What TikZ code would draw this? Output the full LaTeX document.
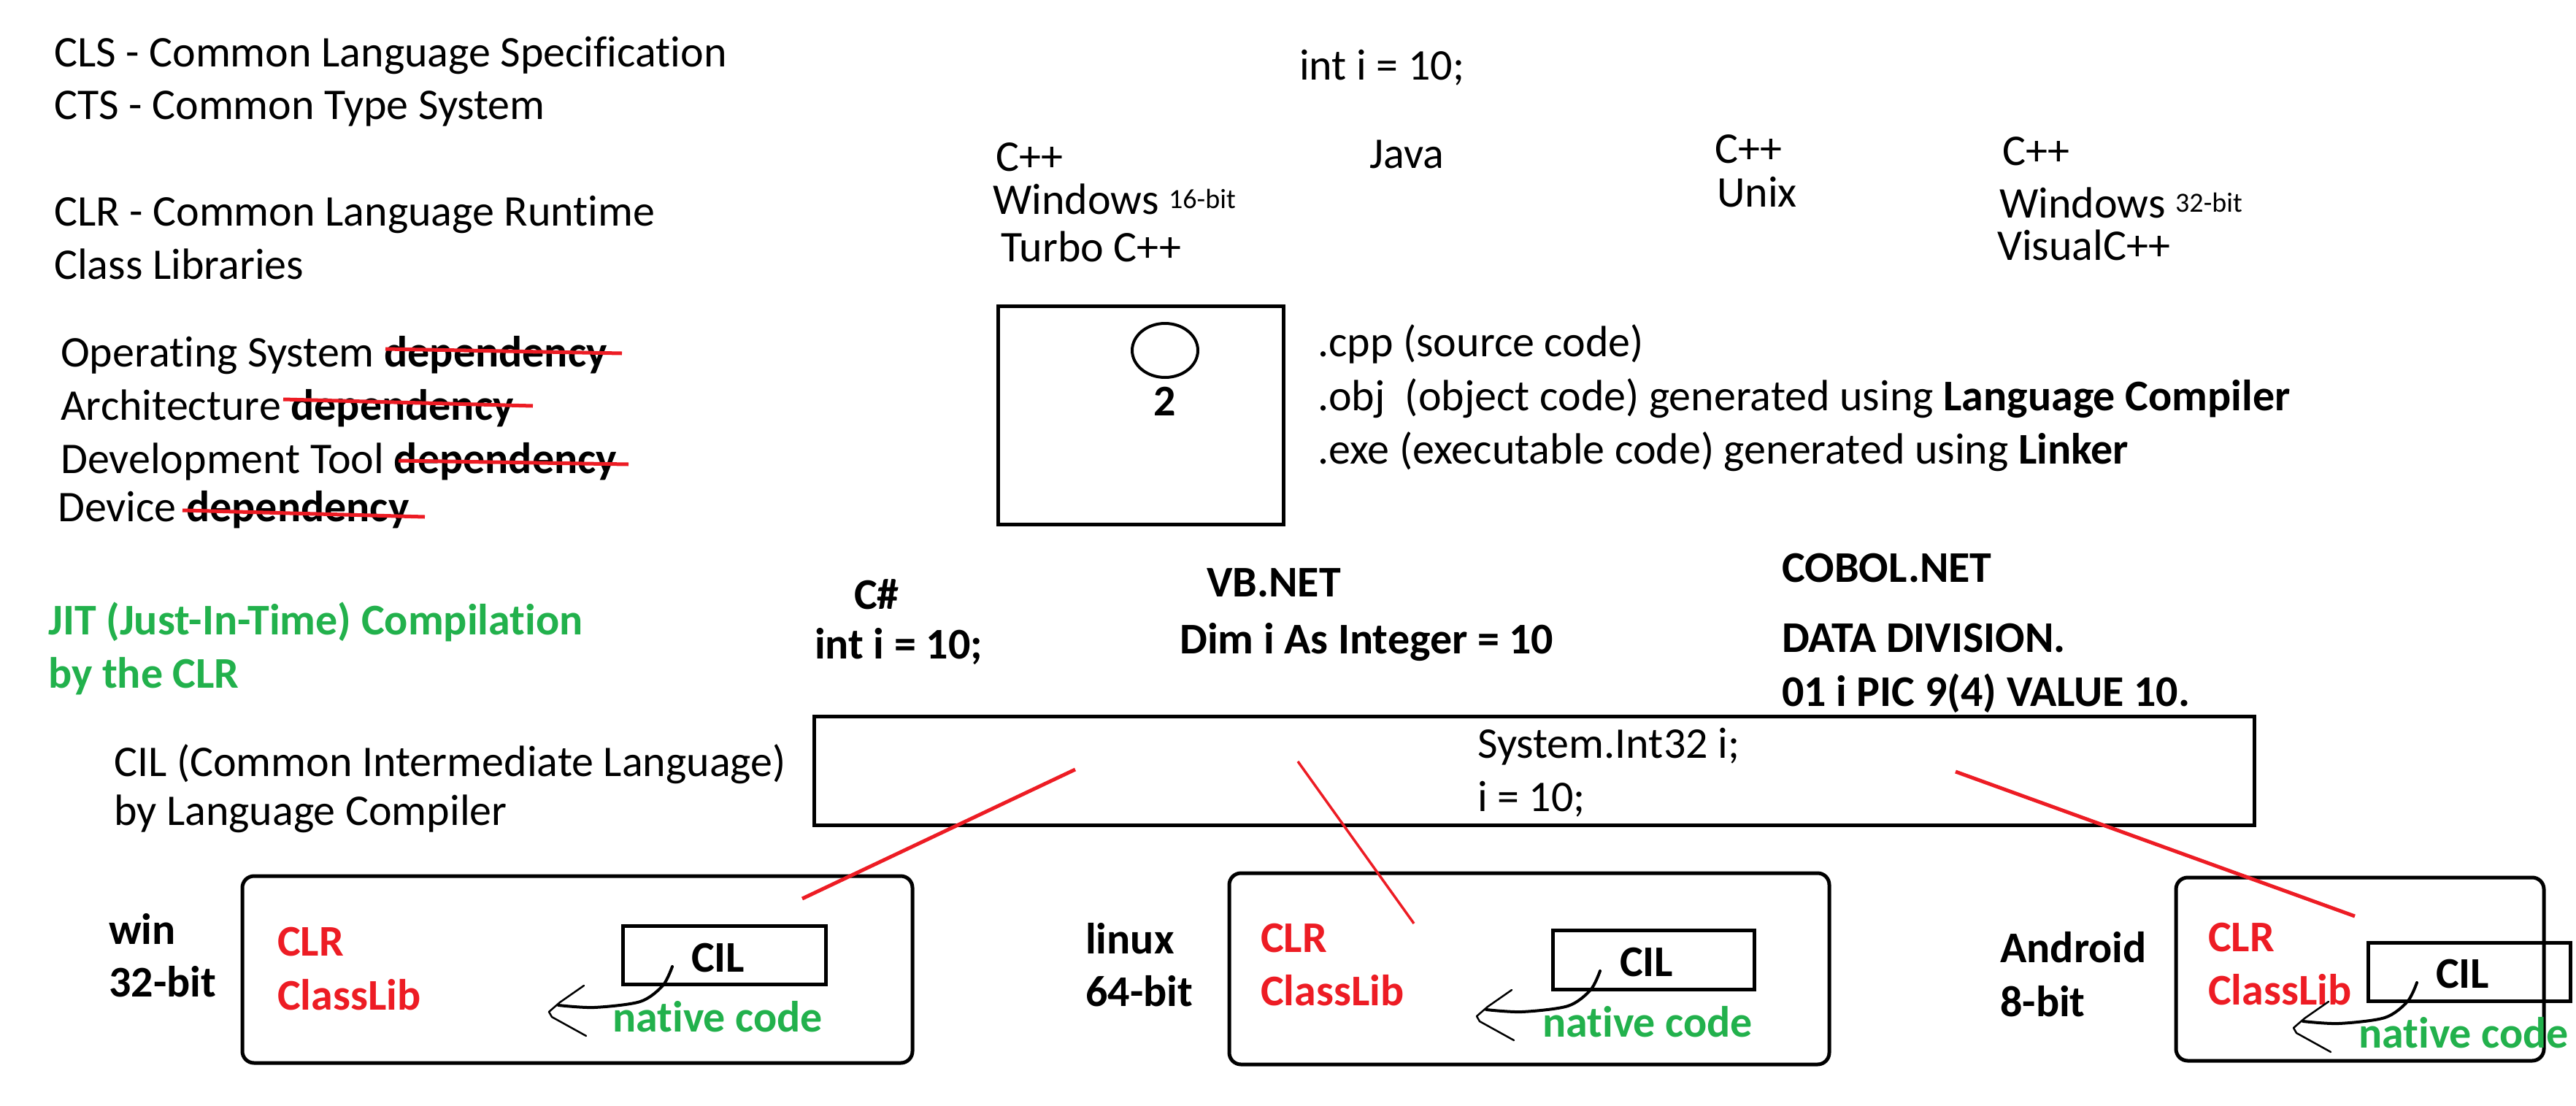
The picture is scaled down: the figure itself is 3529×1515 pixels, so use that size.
\documentclass[tikz,border=0pt]{standalone}
\usepackage{fontspec}
\setmainfont{Carlito}[Ligatures={NoCommon,NoRequired,NoContextual}]
\usetikzlibrary{shapes.geometric}
\definecolor{pred}{HTML}{ED1C24}
\definecolor{pgreen}{HTML}{22B14C}
\newcommand\smallsup[1]{\raisebox{8pt}{\fontsize{38}{40}\selectfont #1}}
\tikzset{
  txt/.style={anchor=base west, inner sep=0pt, font=\fontsize{60}{72}\selectfont},
  btxt/.style={txt, font=\fontsize{60}{72}\selectfont\bfseries},
  gtxt/.style={btxt, text=pgreen},
  rtxt/.style={btxt, text=pred},
  plainbox/.style={draw, line width=5pt, inner sep=0pt},
  osbox/.style={draw, line width=5pt, rounded corners=16pt, inner sep=0pt},
  strike/.style={draw=pred, line width=5pt},
  jitline/.style={draw=pred, line width=#1},
  jitarrow/.pic={
    \draw[line width=4pt, line cap=round] plot[smooth] coordinates {(169,-62) (156,-36) (125,-14) (62,-6) (13,-9)};
    \draw[line width=2.5pt, line cap=round, line join=round] (48,-36) -- (15,-13) -- (0,0) -- (4,7) -- (51,33);
  }
}
\begin{document}
\begin{tikzpicture}[x=1pt,y=-1pt]
\path[fill=white] (0,0) rectangle (3529,1515);
\useasboundingbox (0,0) rectangle (3529,1515);

% left column
\node[txt] (cls) at (74,91) {CLS - Common Language Specification};
\node[txt] (cts) at (74,163) {CTS - Common Type System};
\node[txt] (clr) at (74,309) {CLR - Common Language Runtime};
\node[txt] (classlib) at (74,382) {Class Libraries};
\node[txt] (dep1) at (83,502) {Operating System \textbf{dependency}};
\node[txt] (dep2) at (83,575) {Architecture \textbf{dependency}};
\node[txt] (dep3) at (83,648) {Development Tool \textbf{dependency}};
\node[txt] (dep4) at (79,714) {Device \textbf{dependency}};
\draw[strike] (528,478) -- (852,484);
\draw[strike] (388,547) -- (730,556);
\draw[strike] (546,631) -- (861,636);
\draw[strike] (250,699) -- (582,708);
\node[gtxt] (jit1) at (66,869) {JIT (Just-In-Time) Compilation};
\node[gtxt] (jit2) at (66,942) {by the CLR};
\node[txt] (cilA) at (156,1063) {CIL (Common Intermediate Language)};
\node[txt] (cilB) at (156,1130) {by Language Compiler};

% top
\node[txt] (inttop) at (1780,109) {int i = 10;};
\node[txt] (cppa) at (1364,234) {C++};
\node[txt] (winA) at (1360,293) {Windows \smallsup{16-bit}};
\node[txt] (turbo) at (1371,358) {Turbo C++};
\node[txt] (java) at (1876,230) {Java};
\node[txt] (cppb) at (2349,223) {C++};
\node[txt] (unix) at (2352,283) {Unix};
\node[txt] (cppc) at (2743,226) {C++};
\node[txt] (winB) at (2739,298) {Windows \smallsup{32-bit}};
\node[txt] (vcpp) at (2736,356) {VisualC++};

\node[plainbox, minimum width=391pt, minimum height=299pt] (screen) at (1562.5,568.5) {};
\node[draw, ellipse, line width=4pt, minimum width=90pt, minimum height=74pt, inner sep=0pt] (ell) at (1596,480) {};
\node[btxt, anchor=base] (two) at (1596,569) {2};
\node[txt] (cppf) at (1805,488) {.cpp (source code)};
\node[txt] (objf) at (1805,562) {.obj\ \ (object code) generated using \textbf{Language Compiler}};
\node[txt] (exef) at (1805,635) {.exe (executable code) generated using \textbf{Linker}};

% languages
\node[btxt] (cs) at (1170,834) {C\#};
\node[btxt] (csint) at (1116,902) {int i = 10;};
\node[btxt] (vb) at (1653,817) {VB.NET};
\node[btxt] (vbdim) at (1616,895) {Dim i As Integer = 10};
\node[btxt] (cob) at (2441,797) {COBOL.NET};
\node[btxt] (cobdd) at (2441,893) {DATA DIVISION.};
\node[btxt] (cobpic) at (2441,967) {01 i PIC 9(4) VALUE 10.};

\node[plainbox, minimum width=1973pt, minimum height=149pt] (cilbox) at (2101.5,1055.5) {};
\node[txt] (sysint) at (2024,1038) {System.Int32 i;};
\node[txt] (ieq) at (2024,1111) {i = 10;};

% platforms
\node[btxt] (winl) at (149,1293) {win};
\node[btxt] (winb) at (149,1365) {32-bit};
\node[btxt] (linl) at (1487,1306) {linux};
\node[btxt] (linb) at (1487,1378) {64-bit};
\node[btxt] (andl) at (2740,1318) {Android};
\node[btxt] (andb) at (2740,1392) {8-bit};

\node[osbox, minimum width=918pt, minimum height=256pt] (box1) at (791,1328) {};
\node[osbox, minimum width=822pt, minimum height=262pt] (box2) at (2095,1327) {};
\node[osbox, minimum width=504pt, minimum height=251pt] (box3) at (3233,1327.5) {};

\node[rtxt] (clr1) at (380,1309) {CLR};
\node[rtxt] (lib1) at (380,1383) {ClassLib};
\node[rtxt] (clr2) at (1727,1304) {CLR};
\node[rtxt] (lib2) at (1727,1377) {ClassLib};
\node[rtxt] (clr3) at (3025,1303) {CLR};
\node[rtxt] (lib3) at (3025,1376) {ClassLib};

\node[plainbox, minimum width=278pt, minimum height=80pt] (cil1) at (992,1308) {};
\node[plainbox, minimum width=276pt, minimum height=81pt] (cil2) at (2265,1314.5) {};
\node[plainbox, minimum width=277pt, minimum height=80pt] (cil3) at (3382.5,1331) {};
\node[btxt] (cilt1) at (947,1331) {CIL};
\node[btxt] (cilt2) at (2219,1337) {CIL};
\node[btxt] (cilt3) at (3337,1353) {CIL};

\pic at (752,1386) {jitarrow};
\pic at (2023,1392) {jitarrow};
\pic at (3142,1408) {jitarrow};

\node[gtxt] (nat1) at (839,1413) {native code};
\node[gtxt] (nat2) at (2113,1420) {native code};
\node[gtxt] (nat3) at (3231,1435) {native code};

% red connectors
\coordinate (s1) at (1473,1054);
\coordinate (e1) at (1099,1231);
\coordinate (s2) at (1778,1043);
\coordinate (e2) at (1937,1265);
\coordinate (s3) at (2679,1057);
\coordinate (e3) at (3226,1255);
\draw[jitline=5pt] (s1) -- (e1);
\draw[jitline=3.5pt] (s2) -- (e2);
\draw[jitline=5pt] (s3) -- (e3);
\end{tikzpicture}
\end{document}
